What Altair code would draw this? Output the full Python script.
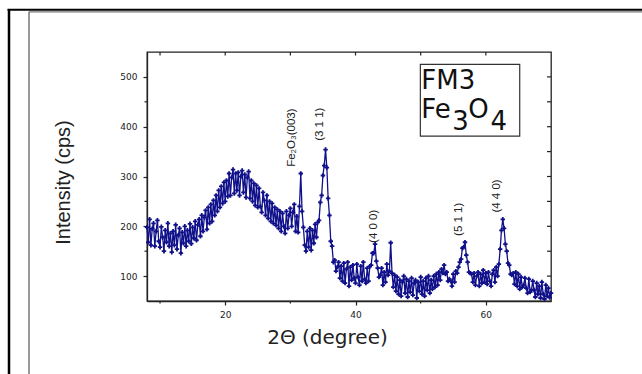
import altair as alt
import pandas as pd

# ---------------- data ----------------
intensity = [
    198, 168, 214, 162, 195, 206, 160, 190, 212, 170,   # 8.0 - 9.8
    158, 199, 178, 150, 192, 168, 206, 160, 186, 148,   # 10
    190, 162, 203, 154, 182, 196, 146, 188, 166, 200,   # 12
    160, 192, 170, 205, 165, 198, 176, 210, 172, 203,   # 14
    214, 180, 222, 190, 218, 232, 194, 238, 206, 244,   # 16
    210, 252, 222, 262, 230, 272, 238, 280, 246, 288,   # 18
    250, 292, 260, 306, 262, 298, 314, 266, 306, 272,   # 20
    308, 262, 300, 312, 268, 304, 258, 298, 310, 256,   # 22
    292, 250, 286, 242, 282, 238, 276, 240, 228, 268,   # 24
    252, 222, 262, 216, 250, 210, 246, 206, 238, 202,   # 26
    234, 196, 230, 190, 226, 200, 186, 230, 196, 222,   # 28
    236, 200, 228, 244, 190, 220, 188, 240, 306, 230,   # 30
    198, 162, 150, 190, 158, 196, 152, 192, 166, 204,   # 32
    178, 208, 212, 248, 262, 302, 322, 354, 318, 256,   # 34
    222, 170, 160, 128, 132, 110, 118, 128, 96, 120,    # 36
    90, 126, 86, 114, 128, 80, 118, 92, 122, 96,        # 38
    86, 124, 98, 82, 120, 90, 128, 94, 86, 116,         # 40
    90, 120, 122, 146, 146, 164, 130, 116, 98, 102,     # 42
    116, 82, 108, 88, 124, 102, 110, 167, 106, 78,      # 44
    102, 70, 98, 64, 92, 60, 88, 100, 66, 94,           # 46
    58, 90, 68, 96, 62, 86, 92, 56, 88, 70,             # 48
    98, 64, 90, 60, 96, 72, 100, 66, 92, 74,            # 50
    100, 78, 104, 82, 108, 92, 114, 106, 122, 104,      # 52
    108, 90, 94, 90, 80, 104, 88, 110, 106, 118,        # 54
    128, 134, 156, 158, 168, 142, 128, 108, 106, 104,   # 56
    88, 106, 82, 100, 108, 80, 104, 86, 112, 88,        # 58
    106, 84, 108, 90, 80, 104, 112, 88, 118, 100,       # 60
    124, 154, 192, 214, 196, 164, 150, 126, 122, 104,   # 62
    102, 106, 84, 108, 80, 104, 74, 98, 78, 82,         # 64
    96, 76, 66, 94, 68, 72, 90, 72, 58, 86,             # 66
    64, 80, 56, 88, 64, 54, 82, 60, 76, 57,             # 68
    66,                                                 # 70
]
two_theta = [round(8 + 0.2 * i, 1) for i in range(len(intensity))]

peak_labels = ["Fe\u2082O\u2083(003)", "(3 1 1)", "(4 0 0)", "(5 1 1)", "(4 4 0)"]
peak_label_x = [30.2, 34.6, 42.8, 55.95, 61.7]
peak_label_y = [378, 405, 200, 214, 261]

x_major = [20, 40, 60]
x_all_major = [10, 20, 30, 40, 50, 60]
x_minor = [10, 30, 50]
y_major = [100, 200, 300, 400, 500]
y_minor = [150, 250, 350, 450]

box_x = [49.95]
box_x2 = [65.2]
box_y = [525]
box_y2 = [381]

legend_text = ["FM3", "Fe", "3", "O", "4"]
legend_x = [50.1, 50.1, 54.85, 57.3, 60.7]
legend_y = [476, 418, 394, 418, 394]

# ---------------- layout ----------------
W, H = 404, 249
NAVY = "#10108a"
AX = "#222222"

xs = alt.Scale(domain=[8, 70], nice=False, zero=False)
ys = alt.Scale(domain=[50, 550], nice=False, zero=False)

xa = alt.Axis(
    values=x_major, title="2\u0398 (degree)", grid=False,
    domainColor=AX, domainWidth=1.3, tickColor=AX, tickWidth=1.2, tickSize=4,
    labelFont="DejaVu Sans", labelFontSize=9, labelColor=AX, labelPadding=5,
    titleFont="DejaVu Sans", titleFontSize=20, titleFontWeight="normal",
    titleColor=AX, titleX=180, titleY=42, titleBaseline="alphabetic",
    titleAnchor="start", titleAlign="center")
ya = alt.Axis(
    values=y_major, title="Intensity (cps)", grid=False,
    domainColor=AX, domainWidth=1.3, tickColor=AX, tickWidth=1.2, tickSize=4,
    labelFont="DejaVu Sans", labelFontSize=9, labelColor=AX, labelPadding=6,
    titleFont="Liberation Sans", titleFontSize=20, titleFontWeight="normal",
    titleColor=AX, titleX=-78, titleY=130, titleAngle=270,
    titleBaseline="alphabetic", titleAlign="center", titleAnchor="start")


def X(field):
    return alt.X(field, type="quantitative", scale=xs, axis=xa, title="2\u0398 (degree)")


def Y(field):
    return alt.Y(field, type="quantitative", scale=ys, axis=ya, title="Intensity (cps)")


df = pd.DataFrame({"tt": two_theta, "I": intensity})

line = alt.Chart(df).mark_line(
    color=NAVY, strokeWidth=1.3,
    point=alt.OverlayMarkDef(shape="cross", size=20, color=NAVY, filled=True),
).encode(x=X("tt"), y=Y("I"))

# minor ticks (outward) on bottom / left
bmin = alt.Chart(pd.DataFrame({"v": x_minor})).mark_rule(color=AX, strokeWidth=1.2).encode(
    x=X("v"), y=alt.value(H), y2=alt.value(H + 2.5))
lmin = alt.Chart(pd.DataFrame({"v": y_minor})).mark_rule(color=AX, strokeWidth=1.2).encode(
    y=Y("v"), x=alt.value(0), x2=alt.value(-2.5))

# mirrored inward ticks on top / right
tmaj = alt.Chart(pd.DataFrame({"v": x_all_major})).mark_rule(color=AX, strokeWidth=1.2).encode(
    x=X("v"), y=alt.value(0), y2=alt.value(3.5))
rmaj = alt.Chart(pd.DataFrame({"v": y_major + y_minor})).mark_rule(color=AX, strokeWidth=1.2).encode(
    y=Y("v"), x=alt.value(W), x2=alt.value(W - 4))

# peak labels
peaks = alt.Chart(pd.DataFrame({"t": peak_labels, "x": peak_label_x, "y": peak_label_y})).mark_text(
    angle=270, align="center", baseline="middle", font="Liberation Sans",
    fontSize=11.5, color=AX,
).encode(x=X("x"), y=Y("y"), text="t:N")

# legend box
box = alt.Chart(pd.DataFrame({"x": box_x, "x2": box_x2, "y": box_y, "y2": box_y2})).mark_rect(
    fill="white", stroke="#333333", strokeWidth=1.2
).encode(x=X("x"), x2="x2:Q", y=Y("y"), y2="y2:Q")
legend = alt.Chart(pd.DataFrame({"t": legend_text, "x": legend_x, "y": legend_y})).mark_text(
    align="left", baseline="alphabetic", font="DejaVu Sans", fontSize=26, color="#111111"
).encode(x=X("x"), y=Y("y"), text="t:N")

# page frame lines
one = alt.Data(values=[{}])
f1 = alt.Chart(one).mark_rule(color="#000000", strokeWidth=2.5).encode(
    x=alt.value(-138), y=alt.value(-43), y2=alt.value(330))
f2 = alt.Chart(one).mark_rule(color="#000000", strokeWidth=2).encode(
    y=alt.value(-42.3), x=alt.value(-139.5), x2=alt.value(W + 100))
f3 = alt.Chart(one).mark_rule(color="#777777", strokeWidth=1.2).encode(
    y=alt.value(-40.2), x=alt.value(-118), x2=alt.value(W + 100))
f4 = alt.Chart(one).mark_rule(color="#777777", strokeWidth=1.5).encode(
    x=alt.value(-118), y=alt.value(-40.2), y2=alt.value(330))

chart = alt.layer(
    line, bmin, lmin, tmaj, rmaj, peaks, box, legend, f1, f2, f3, f4
).properties(
    width=W, height=H,
    autosize=alt.AutoSizeParams(type="none"),
    padding={"left": 147, "top": 52, "right": 91, "bottom": 73},
    background="white",
).configure_view(stroke=AX, strokeWidth=1.3)

chart.save("out.html", embed_options={"renderer": "svg", "actions": False})
